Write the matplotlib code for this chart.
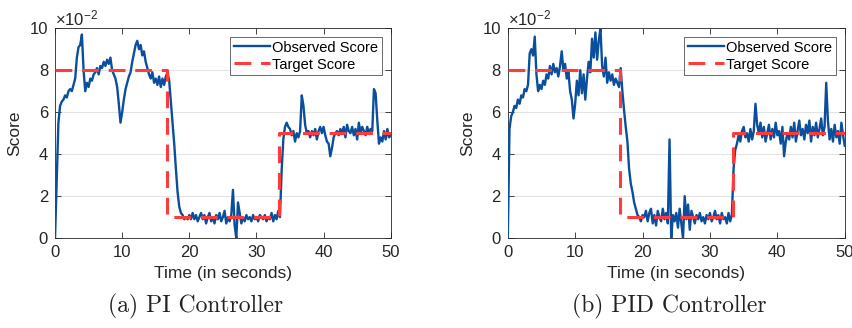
import numpy as np
import matplotlib
matplotlib.use("Agg")
import matplotlib.pyplot as plt

t = np.arange(0, 50.001, 0.25)

pi_score = [
    0.0, 2.8, 5.5, 6.3, 6.5, 6.6, 6.8, 6.7,
    7.0, 7.1, 7.0, 7.3, 7.6, 8.6, 9.1, 9.2,
    9.7, 8.0, 7.0, 7.4, 7.2, 7.6, 7.5, 7.8,
    7.9, 8.1, 7.8, 8.2, 8.1, 8.4, 8.2, 8.5,
    8.3, 8.6, 8.0, 7.8, 7.6, 7.2, 6.4, 5.5,
    6.0, 6.6, 7.1, 7.4, 7.7, 7.9, 8.4, 8.8,
    9.2, 9.4, 9.0, 9.2, 8.7, 8.9, 8.4, 8.1,
    7.8, 7.6, 7.9, 7.4, 7.6, 7.3, 7.7, 7.2,
    7.6, 7.3, 7.7, 7.9, 7.5, 6.5, 5.5, 4.5,
    3.3, 2.2, 1.5, 1.2, 1.1, 0.9, 1.0, 0.9,
    1.1, 0.9, 1.2, 0.9, 1.1, 0.8, 1.0, 1.2,
    0.9, 1.1, 0.7, 1.0, 1.2, 0.8, 1.0, 0.7,
    1.1, 0.9, 1.2, 0.8, 1.0, 1.3, 0.7, 1.0,
    0.8, 1.1, 2.3, 0.6, 0.0, 1.7, 1.2, 0.7,
    1.0, 0.8, 1.1, 0.9, 1.0, 0.8, 1.1, 0.9,
    1.0, 0.8, 1.1, 1.0, 0.9, 1.1, 0.8, 1.0,
    0.9, 1.2, 0.8, 1.1, 0.9, 1.3, 1.0, 3.2,
    4.7, 5.3, 5.5, 5.3, 5.2, 4.9, 5.1, 4.6,
    5.0, 4.8, 5.1, 6.8, 6.3, 5.4, 5.0, 5.1,
    4.8, 5.1, 4.9, 5.2, 4.7, 5.1, 5.3, 5.0,
    5.3, 4.9, 4.6, 4.5, 3.9, 4.3, 4.8, 5.0,
    5.1, 4.9, 5.2, 5.0, 5.3, 4.8, 5.4, 5.1,
    5.0, 5.3, 4.9, 5.2, 4.7, 5.5, 5.0, 5.3,
    5.1, 4.9, 5.3, 5.0, 5.2, 5.1, 7.1, 6.9,
    5.6, 4.5, 4.8, 4.6, 5.1, 4.7, 5.2, 4.8,
    4.9,
]

pid_score = [
    0.0, 5.2, 5.8, 6.0, 6.3, 6.2, 6.6, 6.4,
    6.8, 6.7, 7.1, 7.0, 7.3, 8.8, 9.0, 8.7,
    9.6, 7.8, 7.0, 7.3, 7.1, 7.5, 7.3, 7.8,
    7.6, 8.2, 7.8, 8.3, 7.9, 8.1, 7.7, 8.2,
    8.9, 8.0, 8.3, 7.6, 7.9, 7.0, 6.6, 5.7,
    6.4, 7.5, 6.8, 8.0, 6.9, 7.8, 6.6, 7.6,
    8.4, 7.9, 9.5, 8.6, 9.8, 8.5, 9.4, 10.0,
    8.2, 7.7, 8.6, 7.4, 7.9, 7.5, 7.8, 7.3,
    7.6, 7.4, 7.2, 8.1, 7.0, 6.1, 5.3, 4.6,
    3.3, 2.6, 2.2, 1.7, 1.4, 1.1, 1.0, 0.8,
    1.1, 1.0, 1.3, 0.8, 1.2, 1.4, 0.7, 1.1,
    0.6, 1.3, 1.0, 0.8, 1.4, 0.9, 1.2, 0.7,
    4.7, 0.0, 1.1, 0.8, 1.2, 0.5, 1.4, 0.7,
    0.0, 2.0, 0.9, 1.6, 0.4, 1.3, 1.0, 0.7,
    1.1, 0.9, 1.2, 0.8, 1.0, 0.7, 1.1, 0.9,
    1.2, 0.8, 1.0, 1.3, 0.9, 1.1, 0.7, 1.2,
    0.9, 1.0, 0.7, 1.2, 0.8, 1.1, 3.3, 4.2,
    4.5, 4.9, 4.6, 5.1, 5.3, 4.8, 5.0, 4.6,
    5.2, 4.7, 5.1, 6.4, 5.4, 5.0, 5.5, 4.8,
    5.3, 4.6, 5.0, 5.4, 4.7, 5.2, 4.8, 5.5,
    4.9, 5.1, 4.5, 5.3, 3.9, 4.6, 5.0, 4.7,
    5.3, 4.8, 5.5, 4.6, 5.1, 5.6, 4.9, 5.2,
    4.7, 5.4, 5.0, 5.6, 4.6, 5.3, 4.9, 5.5,
    4.8, 5.2, 5.7, 4.9, 5.3, 7.4, 5.6, 4.7,
    5.2, 4.6, 5.4, 4.8, 5.1, 4.5, 5.5, 4.9,
    4.4,
]

target_t = [0, 16.7, 16.7, 33.4, 33.4, 50]
target_v = [8, 8, 1, 1, 5, 5]

captions = ["(a) PI Controller", "(b) PID Controller"]
caption_x = [0.229, 0.786]

plt.rcParams['font.family'] = ['Liberation Sans', 'DejaVu Sans']
plt.rcParams['mathtext.default'] = 'regular'

fig = plt.figure(figsize=(8.52, 3.28), dpi=100)
axes = [fig.add_axes([0.0646, 0.274, 0.394, 0.640]),
        fig.add_axes([0.596, 0.274, 0.3955, 0.640])]

grey = '#262626'
for ax, obs, cap, cx in zip(axes, [pi_score, pid_score], captions, caption_x):
    ax.plot(t, obs, color='#0a4f9e', lw=1.7, label='Observed Score', zorder=3)
    ax.plot(target_t, target_v, color='#ff3b3b', lw=2.2, dashes=(5.5, 3.2),
            label='Target Score', zorder=4)
    ax.set_xlim(0, 50)
    ax.set_ylim(0, 10)
    ax.set_xticks([0, 10, 20, 30, 40, 50])
    ax.set_yticks([0, 2, 4, 6, 8, 10])
    ax.yaxis.grid(True, color='#e3e3e3', lw=0.8)
    ax.set_axisbelow(True)
    ax.tick_params(direction='in', top=True, right=True, length=4,
                   labelsize=12, colors=grey, width=0.6, pad=5)
    for s in ax.spines.values():
        s.set_color(grey)
        s.set_linewidth(0.6)
    ax.set_xlabel('Time (in seconds)', fontsize=12.5, color=grey, labelpad=4)
    ax.set_ylabel('Score', fontsize=12.5, color=grey, labelpad=5)
    ax.text(0.0, 1.0, r'$\times10^{-2}$', transform=ax.transAxes,
            fontsize=12, color=grey, ha='left', va='bottom')
    leg = ax.legend(loc='upper right', fontsize=10.5, frameon=True, fancybox=False,
                    handlelength=2.5, handletextpad=0.15, borderpad=0.25,
                    labelspacing=0.2, borderaxespad=0.6)
    leg.get_frame().set_edgecolor(grey)
    leg.get_frame().set_linewidth(0.6)
    fig.text(cx, 0.067, cap, family='cmr10',
             fontsize=17, ha='center', va='center', color='#222222')

fig.savefig('out.png', dpi=100)
